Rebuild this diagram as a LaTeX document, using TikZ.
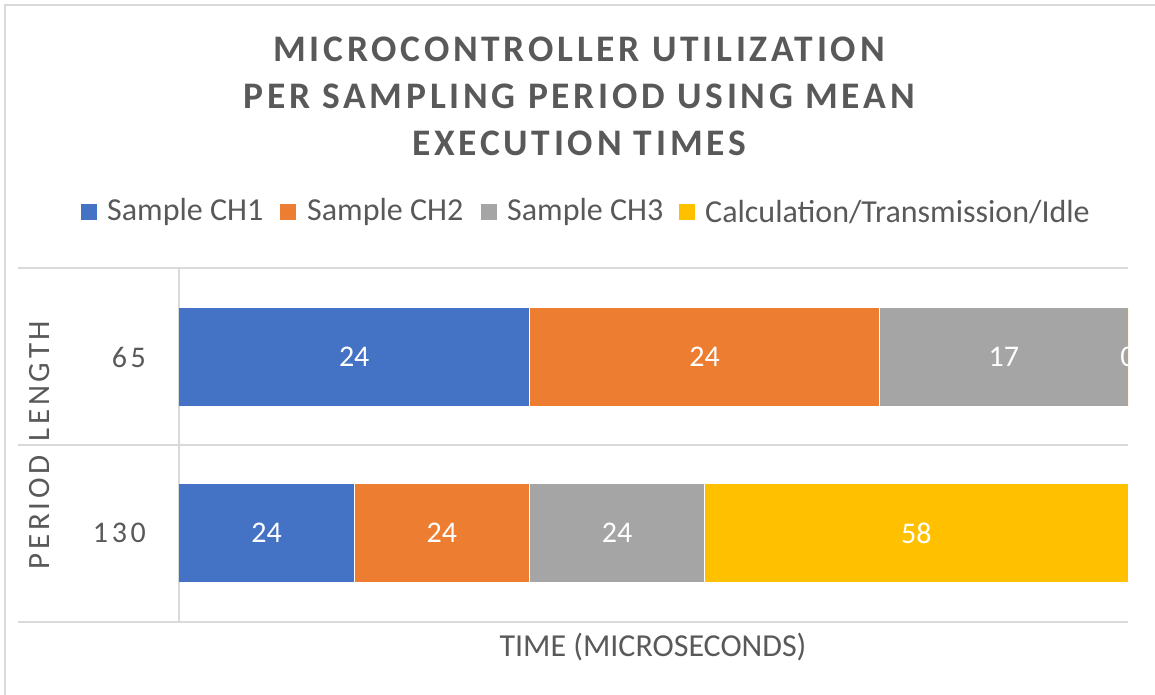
\documentclass[tikz,border=0pt]{standalone}
\usepackage{fontspec}
\setmainfont{Carlito}
\usetikzlibrary{positioning}
\definecolor{chone}{HTML}{4472C4}
\definecolor{chtwo}{HTML}{ED7D31}
\definecolor{chthree}{HTML}{A5A5A5}
\definecolor{calc}{HTML}{FFC000}
\definecolor{txtgray}{HTML}{595959}
\definecolor{gridgray}{HTML}{D9D9D9}

\begin{document}
\begin{tikzpicture}[x=1pt, y=-1pt,
		gridline/.style={draw=gridgray, line width=1.5pt},
		keybox/.style={minimum size=16pt, inner sep=0pt},
		keytext/.style={text=txtgray, font=\fontsize{32}{32}\selectfont, inner sep=0pt, anchor=west},
		datalbl/.style={text=white, font=\fontsize{30}{30}\selectfont, inner sep=0pt},
		ticklbl/.style={text=txtgray, font=\fontsize{30}{30}\selectfont\addfontfeatures{LetterSpace=12}, inner sep=0pt, anchor=east}]
	\useasboundingbox (0,0) rectangle (1155,695);
	\draw[gridgray, line width=1.5pt] (5,695) -- (5,5) -- (1155,5);

	% title
	\node[text=txtgray, align=center, font=\fontsize{37.5}{47}\selectfont\bfseries\addfontfeatures{LetterSpace=10}] (title) at (579,96)
		{MICROCONTROLLER UTILIZATION\\PER SAMPLING PERIOD USING MEAN\\EXECUTION TIMES};

	% legend
	\node[keybox, fill=chone] (k1) at (89,212) {};
	\node[keytext] (t1) at (107,212) {Sample CH1};
	\node[keybox, fill=chtwo] (k2) at (288,212) {};
	\node[keytext] (t2) at (307,212) {Sample CH2};
	\node[keybox, fill=chthree] (k3) at (489,212) {};
	\node[keytext] (t3) at (507,212) {Sample CH3};
	\node[keybox, fill=calc] (k4) at (687,212) {};
	\node[keytext] (t4) at (705,212) {Calculation/Transmission/Idle};

	% plot area
	\draw[gridline] (18,268) -- (1128,268);
	\draw[gridline] (18,445) -- (1128,445);
	\draw[gridline] (18,622) -- (1128,622);
	\draw[gridline] (179,268) -- (179,622);

	\begin{scope}
		\clip (179,268) rectangle (1128,622);
		% period 65
		\foreach \a/\w/\c in {0/24/chone, 24/24/chtwo, 48/17/chthree, 65/0/calc}{
			\fill[\c] ({179+949/65*\a},308) rectangle ({179+949/65*(\a+\w)},406);
			\node[datalbl] at ({179+949/65*(\a+\w/2)},357) {\w};
		}
		% period 130
		\foreach \a/\w/\c in {0/24/chone, 24/24/chtwo, 48/24/chthree, 72/58/calc}{
			\fill[\c] ({179+949/130*\a},484) rectangle ({179+949/130*(\a+\w)},582);
			\node[datalbl] at ({179+949/130*(\a+\w/2)},533) {\w};
		}
		\foreach \x in {529,879}
			\draw[white, line width=0.8pt] (\x,308) -- (\x,406);
		\foreach \x in {354,529,704}
			\draw[white, line width=0.8pt] (\x,484) -- (\x,582);
	\end{scope}

	% axes labels
	\node[ticklbl] (y65) at (146,357) {65};
	\node[ticklbl] (y130) at (146,533) {130};
	\node[text=txtgray, rotate=90, inner sep=0pt, font=\fontsize{31}{31}\selectfont\addfontfeatures{LetterSpace=12}] (ytitle) at (40,445) {PERIOD\hspace{0.45em}LENGTH};
	\node[text=txtgray, inner sep=0pt, font=\fontsize{32}{32}\selectfont] (xtitle) at (653,647) {TIME (MICROSECONDS)};
\end{tikzpicture}
\end{document}
